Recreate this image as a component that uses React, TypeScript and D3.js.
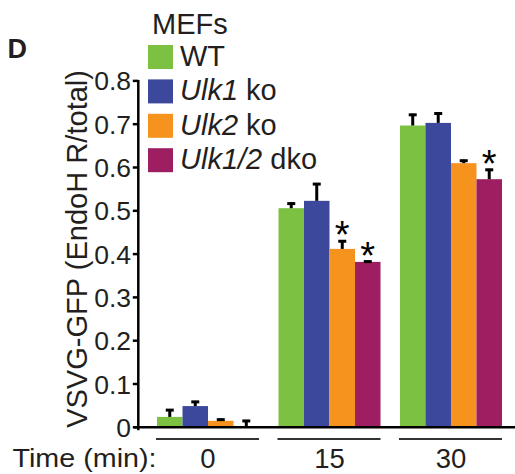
import React from 'react'
import * as d3 from 'd3'

// chart values
const times = ['0', '15', '30']
const seriesNames = ['WT', 'Ulk1 ko', 'Ulk2 ko', 'Ulk1/2 dko']
const wtValues = [0.024, 0.506, 0.697]
const wtErrors = [0.018, 0.013, 0.027]
const ulk1Values = [0.049, 0.523, 0.703]
const ulk1Errors = [0.012, 0.041, 0.024]
const ulk2Values = [0.015, 0.412, 0.61]
const ulk2Errors = [0.005, 0.02, 0.008]
const dkoValues = [0.002, 0.382, 0.573]
const dkoErrors = [0.015, 0.003, 0.024]
// significance marks: [series index, time index]
const starred = [[2, 1], [3, 1], [3, 2]]
const yTicks = [0, 0.1, 0.2, 0.3, 0.4, 0.5, 0.6, 0.7, 0.8]

const colors = ['#7dc142', '#3b489c', '#f6931f', '#9d1f61']
const ink = '#231f20'
const font = '"Liberation Sans", Arial, Helvetica, sans-serif'

const values = [wtValues, ulk1Values, ulk2Values, dkoValues]
const errors = [wtErrors, ulk1Errors, ulk2Errors, dkoErrors]

// legend label pieces: italic gene name + plain suffix
const legendParts = [
  ['', 'WT'],
  ['Ulk1', ' ko'],
  ['Ulk2', ' ko'],
  ['Ulk1/2', ' dko'],
]

export default function App() {
  const width = 515
  const height = 474

  const y = d3.scaleLinear().domain([0, 0.8]).range([427.3, 80.9])
  const x = d3.scaleBand().domain(times).range([157, 502]).paddingInner(0.16).paddingOuter(0)
  const xs = d3.scaleBand().domain(seriesNames).range([0, x.bandwidth()]).padding(0)

  const axisX = 138.3
  const capW = 8

  return (
    <svg width={width} height={height} style={{ position: 'absolute', left: 0, top: 0, background: '#fff' }} fontFamily={font}>
      {/* panel letter */}
      <text x={7.5} y={57.5} fontSize={27} fontWeight="bold" fill={ink}>D</text>

      {/* bars */}
      {times.map((t, ti) => (
        <g key={t} transform={`translate(${x(t)},0)`}>
          {seriesNames.map((s, si) => {
            const v = values[si][ti]
            const e = errors[si][ti]
            const bx = xs(s)!
            const cx = bx + xs.bandwidth() / 2
            return (
              <g key={s}>
                <rect x={bx} y={y(v)} width={xs.bandwidth()} height={y(0) - y(v)} fill={colors[si]} />
                <line x1={cx} x2={cx} y1={y(v)} y2={y(v + e)} stroke="#000" strokeWidth={3} />
                <line x1={cx - capW / 2} x2={cx + capW / 2} y1={y(v + e) + 1} y2={y(v + e) + 1} stroke="#000" strokeWidth={3} />
              </g>
            )
          })}
        </g>
      ))}

      {/* asterisks */}
      {starred.map(([si, ti]) => {
        const cx = x(times[ti])! + xs(seriesNames[si])! + xs.bandwidth() / 2
        const top = y(values[si][ti] + errors[si][ti])
        return (
          <text key={`${si}-${ti}`} x={cx} y={top + 8} fontSize={38} textAnchor="middle" fill="#000">*</text>
        )
      })}

      {/* y axis */}
      <line x1={axisX} x2={axisX} y1={y(0.8) - 1} y2={y(0) + 3} stroke="#000" strokeWidth={2.5} />
      {yTicks.map(t => (
        <g key={t}>
          <line x1={axisX - 5.5} x2={axisX} y1={y(t)} y2={y(t)} stroke="#000" strokeWidth={2.5} />
          <text x={131} y={y(t) + 9.5} fontSize={26.5} textAnchor="end" fill={ink}>{d3.format('~g')(t)}</text>
        </g>
      ))}

      {/* x axis */}
      <line x1={134} x2={width} y1={y(0)} y2={y(0)} stroke="#000" strokeWidth={2.5} />

      {/* group underlines and time labels */}
      {times.map(t => (
        <g key={t}>
          <line x1={x(t)! - 1} x2={x(t)! + x.bandwidth()} y1={439} y2={439} stroke="#333" strokeWidth={2} />
          <text x={x(t)! + x.bandwidth() / 2} y={467.5} fontSize={27.5} textAnchor="middle" fill={ink}>{t}</text>
        </g>
      ))}
      <text x={12.5} y={467} fontSize={25} fill={ink} textLength={144} lengthAdjust="spacingAndGlyphs">Time (min):</text>

      {/* y axis title */}
      <text transform={`translate(86.5,249) rotate(-90)`} fontSize={29} textAnchor="middle" fill={ink} textLength={358} lengthAdjust="spacingAndGlyphs">
        VSVG-GFP (EndoH R/total)
      </text>

      {/* legend */}
      <text x={152} y={34.3} fontSize={29} fill={ink}>MEFs</text>
      {seriesNames.map((s, i) => {
        const top = 45 + i * 34.4
        return (
          <g key={s}>
            <rect x={148} y={top} width={25} height={24} fill={colors[i]} />
            <text x={180} y={top + 21} fontSize={29} fill={ink}>
              {legendParts[i][0] && <tspan fontStyle="italic">{legendParts[i][0]}</tspan>}
              <tspan>{legendParts[i][1]}</tspan>
            </text>
          </g>
        )
      })}
    </svg>
  )
}
